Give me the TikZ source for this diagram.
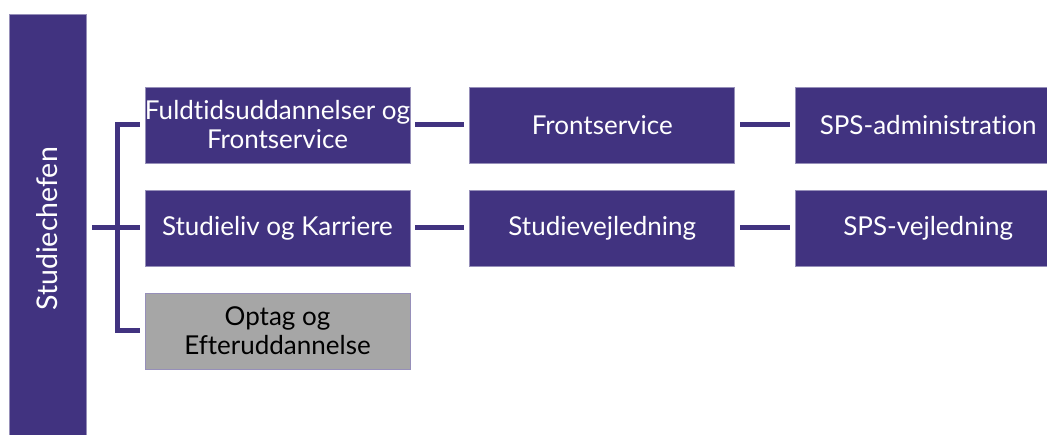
\documentclass[tikz,border=0pt]{standalone}
\usepackage{fontspec}
\setmainfont{Lato}[Ligatures=NoCommon]
\usetikzlibrary{positioning}
\definecolor{lilla}{RGB}{65,51,128}
\definecolor{graa}{RGB}{166,166,166}
\begin{document}
\begin{tikzpicture}[x=1pt,y=1pt,
	enhed/.style={draw=lilla!55!white,line width=0.8pt,fill=lilla,text=white,minimum width=265pt,minimum height=76pt,inner sep=0pt,align=center,font=\fontsize{26}{29}\selectfont},
	forb/.style={line width=5pt,color=lilla}]
		\useasboundingbox (0,0) rectangle (1047,434);
		% Studiechefen
		\node[enhed,minimum width=77pt,minimum height=430pt,font=\fontsize{28.5}{30}\selectfont] (chef) at (47.5,205) {\rotatebox{90}{Studiechefen}};
		% Forste kolonne
		\node[enhed] (fuld) at (277.5,309) {Fuldtidsuddannelser og\\Frontservice};
		\node[enhed] (karriere) at (277.5,206) {Studieliv og Karriere};
		\node[enhed,fill=graa,text=black] (optag) at (277.5,103) {Optag og\\Efteruddannelse};
		% Anden og tredje kolonne
		\node[enhed,right=59pt of fuld] (front) {Frontservice};
		\node[enhed,right=59pt of karriere] (vejl) {Studievejledning};
		\node[enhed,right=60pt of front] (spsadm) {SPS-administration};
		\node[enhed,right=60pt of vejl] (spsvejl) {SPS-vejledning};
		% Forbindelser
		\coordinate (fork) at (117,206);
		\draw[forb] ([xshift=6pt]chef.east |- karriere) -- (fork) -- ([xshift=-5pt]karriere.west);
		\draw[forb] ([xshift=-5pt]fuld.west) -| (fork) |- ([xshift=-5pt]optag.west);
		\draw[forb,shorten <=5pt,shorten >=5pt] (fuld) -- (front);
		\draw[forb,shorten <=5pt,shorten >=5pt] (front) -- (spsadm);
		\draw[forb,shorten <=5pt,shorten >=5pt] (karriere) -- (vejl);
		\draw[forb,shorten <=5pt,shorten >=5pt] (vejl) -- (spsvejl);
\end{tikzpicture}
\end{document}
